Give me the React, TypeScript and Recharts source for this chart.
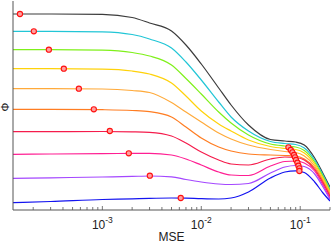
import { ComposedChart, Line, Scatter, XAxis, YAxis } from 'recharts'

// sample points along the MSE axis
const mse = [1.25e-4, 3e-4, 1e-3, 2e-3, 3e-3, 5e-3, 7e-3, 1e-2, 1.5e-2, 2e-2, 3e-2, 5e-2, 7e-2, 9e-2, 0.11, 0.14, 0.17, 0.2]

const phiBlack = [196, 196, 195.7, 192.5, 187, 179, 165, 146, 122, 105, 85, 70.5, 69, 68, 65, 52, 36.5, 23]
const phiCyan = [178.7, 178.7, 178.2, 175.5, 171, 162, 148, 130, 108, 93, 79, 68.5, 66.5, 65.5, 62, 50, 35, 21]
const phiGreen = [160.3, 160.3, 159.8, 157.5, 154, 145, 131.5, 116, 98, 87, 75, 66, 64, 63, 59.5, 48, 33.5, 19.5]
const phiYellow = [141.3, 141.3, 140.8, 139, 136, 127, 114, 99, 86, 79, 70, 63.5, 61.5, 60.5, 57, 46, 32, 18]
const phiOrange = [121.3, 121.3, 121, 119.5, 117.5, 107.5, 98, 88, 77, 71, 65, 60.5, 58.5, 57.5, 54, 44, 30, 16.5]
const phiOrangeRed = [100.7, 100.7, 100.3, 99.5, 98.3, 93, 83, 72, 63, 59, 56, 55, 54.5, 54, 51, 42, 28.5, 15]
const phiRed = [78.3, 78.3, 78.5, 78.2, 77.7, 74, 67, 58, 50, 46, 45, 51, 53, 52.5, 50, 40.5, 27, 13.5]
const phiPink = [55.7, 56, 56.4, 56.6, 56.7, 55, 51, 45, 38, 35, 34.5, 44, 48.5, 49, 47, 39, 25, 12]
const phiPurple = [31.7, 32.2, 33, 33.6, 34, 33.2, 30.5, 28, 26, 25.5, 26.5, 37, 43, 44.5, 43.5, 36, 23, 10.5]
const phiBlue = [7.3, 8.5, 10.5, 11.2, 11.7, 12, 11.8, 11.3, 11, 12, 18, 32, 38, 39.2, 37.5, 28, 17, 9]

const colors = ['#3c3c3c', '#22c6d6', '#7ff01a', '#ffd20a', '#ffaa3a', '#ff7d22', '#f51c4c', '#ff1f93', '#a447ff', '#1414f0']
const curves = [phiBlack, phiCyan, phiGreen, phiYellow, phiOrange, phiOrangeRed, phiRed, phiPink, phiPurple, phiBlue]

// red circle markers
const plateauMse = [1.47e-4, 2.03e-4, 2.88e-4, 4.08e-4, 5.79e-4, 8.2e-4, 1.19e-3, 1.85e-3, 3.02e-3, 6.2e-3]
const plateauPhi = [196, 178.7, 160.3, 141.3, 121.3, 100.7, 79, 56.7, 34.3, 12]
const peakMse = [0.076, 0.0802, 0.0834, 0.0866, 0.0886, 0.0907, 0.0937, 0.0959, 0.0981, 0.0981]
const peakPhi = [62.7, 60, 57.7, 55, 52.7, 50, 47.3, 44.3, 41.7, 39]

const xTicks = [
  2e-4, 3e-4, 4e-4, 5e-4, 6e-4, 7e-4, 8e-4, 9e-4,
  1e-3, 2e-3, 3e-3, 4e-3, 5e-3, 6e-3, 7e-3, 8e-3, 9e-3,
  1e-2, 2e-2, 3e-2, 4e-2, 5e-2, 6e-2, 7e-2, 8e-2, 9e-2,
  1e-1, 2e-1,
]

const AXIS = '#555'
const FONT = 'Liberation Sans, Arial, Helvetica, sans-serif'

const markers = [
  ...plateauMse.map((x, i) => ({ x, y: plateauPhi[i] })),
  ...peakMse.map((x, i) => ({ x, y: peakPhi[i] })),
]

const MseTick = ({ x, y, payload }: any) => {
  const lg = Math.log10(payload.value)
  const exp = Math.round(lg)
  const major = Math.abs(lg - exp) < 1e-6
  return (
    <g>
      <line x1={x} x2={x} y1={y} y2={y - (major ? 4 : 3)} stroke={AXIS} strokeWidth={0.8} />
      {major && (
        <text x={x} y={y + 19} textAnchor="middle" fontSize={12} fontFamily={FONT} fill="#222">
          10<tspan dy={-6} fontSize={8.5}>{`-${Math.abs(exp)}`}</tspan>
        </text>
      )}
    </g>
  )
}

const Ring = ({ cx, cy }: any) => (
  <circle cx={cx} cy={cy} r={2.6} stroke="#ff1010" strokeWidth={1.1} fill="#ffa0a0" />
)

const MseLabel = ({ viewBox }: any) => (
  <text x={viewBox.x + viewBox.width / 2} y={viewBox.y + 30.5} textAnchor="middle" fontSize={12} fontFamily={FONT} fill="#222">
    MSE
  </text>
)

const PhiLabel = ({ viewBox }: any) => {
  const cx = 9
  const cy = viewBox.y + viewBox.height / 2 + 1.5
  return (
    <text x={cx} y={cy} transform={`rotate(-90, ${cx}, ${cy})`} textAnchor="middle" fontSize={11} fontFamily={FONT} fill="#222">
      Φ
    </text>
  )
}

export default function App() {
  return (
    <div style={{ width: 332, height: 243, background: '#fff' }}>
      <style>{'body{margin:0}'}</style>
      <ComposedChart width={332} height={243} margin={{ top: 1, right: 2, left: 0, bottom: 0 }}>
        <XAxis
          dataKey="x"
          type="number"
          scale="log"
          domain={[1.25e-4, 0.2]}
          allowDataOverflow
          ticks={xTicks}
          interval={0}
          tick={<MseTick />}
          tickLine={false}
          tickSize={0}
          tickMargin={0}
          height={33}
          axisLine={{ stroke: AXIS }}
          label={<MseLabel />}
        />
        <YAxis
          dataKey="y"
          type="number"
          domain={[0, 209]}
          allowDataOverflow
          tick={false}
          tickLine={false}
          width={13}
          axisLine={{ stroke: AXIS }}
          label={<PhiLabel />}
        />
        {curves.map((vals, k) => (
          <Line
            key={k}
            data={mse.map((x, i) => ({ x, y: vals[i] }))}
            dataKey="y"
            type="monotone"
            stroke={colors[k]}
            strokeWidth={1.2}
            dot={false}
            isAnimationActive={false}
          />
        ))}
        <Scatter data={markers} dataKey="y" shape={<Ring />} isAnimationActive={false} />
      </ComposedChart>
    </div>
  )
}
